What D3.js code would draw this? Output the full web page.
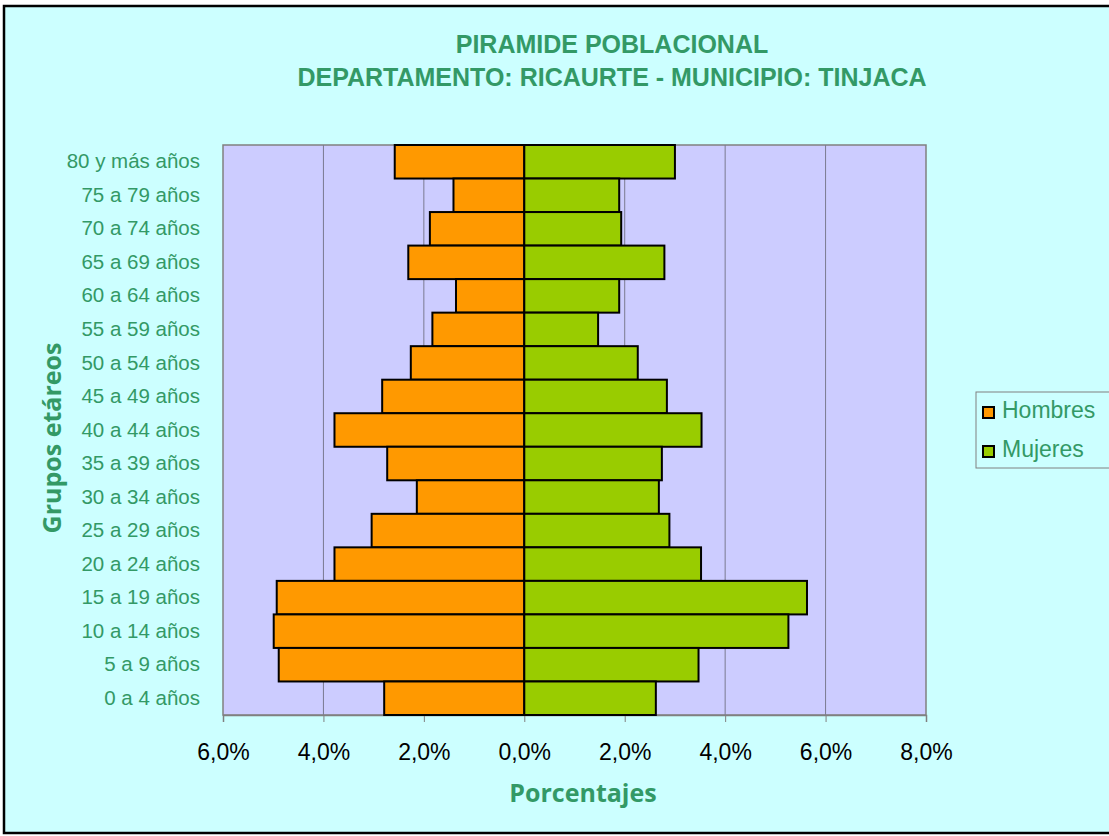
<!DOCTYPE html>
<html>
<head>
<meta charset="utf-8">
<script src="https://cdn.jsdelivr.net/npm/d3@7"></script>
<style>
  body { margin: 0; background: #fff; }
  svg { display: block; }
</style>
</head>
<body>
<div id="chart"></div>
<script>
// age groups, top to bottom as drawn
const grupos = ["80 y más años", "75 a 79 años", "70 a 74 años", "65 a 69 años",
  "60 a 64 años", "55 a 59 años", "50 a 54 años", "45 a 49 años", "40 a 44 años",
  "35 a 39 años", "30 a 34 años", "25 a 29 años", "20 a 24 años", "15 a 19 años",
  "10 a 14 años", "5 a 9 años", "0 a 4 años"];

// percentages
const hombres = [2.58, 1.41, 1.88, 2.31, 1.36, 1.83, 2.26, 2.83, 3.78, 2.73, 2.14,
  3.04, 3.78, 4.93, 4.99, 4.89, 2.79];
const mujeres = [3.00, 1.89, 1.93, 2.79, 1.89, 1.47, 2.26, 2.84, 3.53, 2.74, 2.68,
  2.89, 3.52, 5.63, 5.26, 3.47, 2.62];

const xTicks = [-6, -4, -2, 0, 2, 4, 6, 8];
const series = ["Hombres", "Mujeres"];
const colores = ["#FF9900", "#99CC00"];

const W = 1109, H = 836;
const verde = "#339966";
const arial = "Liberation Sans, Arial, sans-serif";
const plot = {left: 223, right: 926, top: 145, bottom: 715};

const svg = d3.select("#chart").append("svg")
    .attr("width", W)
    .attr("height", H);

// chart area
svg.append("rect")
    .attr("x", 4).attr("y", 6)
    .attr("width", W + 10).attr("height", H - 9)
    .attr("fill", "#CCFFFF")
    .attr("stroke", "#000")
    .attr("stroke-width", 2.5);

const x = d3.scaleLinear().domain([-6, 8]).range([plot.left, plot.right]);
const y = d3.scaleBand().domain(grupos).range([plot.top, plot.bottom]).padding(0);

// plot area
svg.append("rect")
    .attr("x", plot.left).attr("y", plot.top)
    .attr("width", plot.right - plot.left).attr("height", plot.bottom - plot.top)
    .attr("fill", "#CCCCFF")
    .attr("stroke", "#808080")
    .attr("stroke-width", 1.5);

// gridlines
svg.append("g")
  .selectAll("line")
  .data(xTicks.filter(d => d != -6 && d != 8))
  .join("line")
    .attr("x1", d => x(d)).attr("x2", d => x(d))
    .attr("y1", plot.top).attr("y2", plot.bottom)
    .attr("stroke", "#7a7a90")
    .attr("stroke-width", 1);

// x axis
const xAxis = d3.axisBottom(x)
    .tickValues(xTicks)
    .tickSize(7)
    .tickPadding(22)
    .tickFormat(d => Math.abs(d).toFixed(1).replace(".", ",") + "%");

const gx = svg.append("g")
    .attr("transform", `translate(0,${plot.bottom})`)
    .call(xAxis);
gx.select(".domain").attr("stroke", "#808080").attr("stroke-width", 1.5);
gx.selectAll(".tick line").attr("stroke", "#808080");
gx.selectAll(".tick text")
    .attr("fill", "#000")
    .attr("font-family", arial)
    .attr("font-size", 23);

// bars
const rows = grupos.map((g, i) => ({grupo: g, h: hombres[i], m: mujeres[i]}));

svg.append("g")
  .selectAll("rect")
  .data(rows)
  .join("rect")
    .attr("x", d => x(-d.h))
    .attr("y", d => y(d.grupo))
    .attr("width", d => x(0) - x(-d.h))
    .attr("height", y.bandwidth())
    .attr("fill", colores[0])
    .attr("stroke", "#000")
    .attr("stroke-width", 2);

svg.append("g")
  .selectAll("rect")
  .data(rows)
  .join("rect")
    .attr("x", x(0))
    .attr("y", d => y(d.grupo))
    .attr("width", d => x(d.m) - x(0))
    .attr("height", y.bandwidth())
    .attr("fill", colores[1])
    .attr("stroke", "#000")
    .attr("stroke-width", 2);

// category labels
const yAxis = d3.axisLeft(y).tickSize(0).tickPadding(23);
const gy = svg.append("g")
    .attr("transform", `translate(${plot.left},0)`)
    .call(yAxis);
gy.select(".domain").remove();
gy.selectAll(".tick text")
    .attr("fill", verde)
    .attr("font-family", arial)
    .attr("font-size", 20.5);

// titles
const title = svg.append("text")
    .attr("text-anchor", "middle")
    .attr("fill", verde)
    .attr("font-family", arial)
    .attr("font-weight", "bold")
    .attr("font-size", 25);
title.append("tspan").attr("x", 612).attr("y", 53).text("PIRAMIDE POBLACIONAL");
title.append("tspan").attr("x", 612).attr("y", 86).text("DEPARTAMENTO: RICAURTE - MUNICIPIO: TINJACA");

svg.append("text")
    .attr("transform", `translate(61,438) rotate(-90)`)
    .attr("text-anchor", "middle")
    .attr("fill", verde)
    .attr("font-family", "Open Sans, sans-serif")
    .attr("font-weight", "bold")
    .attr("font-size", 25)
    .text("Grupos etáreos");

svg.append("text")
    .attr("x", 583).attr("y", 802)
    .attr("text-anchor", "middle")
    .attr("fill", verde)
    .attr("font-family", "Open Sans, sans-serif")
    .attr("font-weight", "bold")
    .attr("font-size", 25)
    .text("Porcentajes");

// legend
const leg = svg.append("g").attr("transform", "translate(976,392)");
leg.append("rect")
    .attr("width", 140).attr("height", 76)
    .attr("fill", "#CCFFFF")
    .attr("stroke", "#808080")
    .attr("stroke-width", 1);
const item = leg.selectAll("g.item")
  .data(series)
  .join("g")
    .attr("class", "item")
    .attr("transform", (d, i) => `translate(7,${26 + i * 39})`);
item.append("rect")
    .attr("x", 0).attr("y", -11)
    .attr("width", 11).attr("height", 11)
    .attr("fill", (d, i) => colores[i])
    .attr("stroke", "#000")
    .attr("stroke-width", 2);
item.append("text")
    .attr("x", 19).attr("y", 0)
    .attr("fill", verde)
    .attr("font-family", arial)
    .attr("font-size", 23)
    .text(d => d);
</script>
</body>
</html>
